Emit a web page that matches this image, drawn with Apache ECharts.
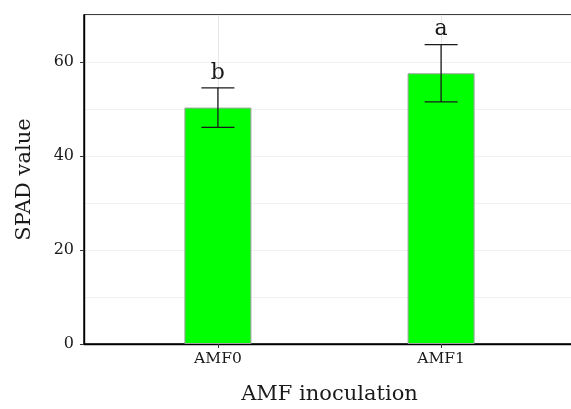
<!DOCTYPE html>
<html lang="en">
<head>
    <meta charset="utf-8">
    <title>SPAD value</title>
    <script src="https://cdn.jsdelivr.net/npm/echarts@6/dist/echarts.min.js"></script>
    <style>
        html, body { margin: 0; padding: 0; background: #fff; }
        #main { width: 571px; height: 409px; }
    </style>
</head>
<body>
<div id="main"></div>
<script type="text/javascript">
    // data
    var categories = ['AMF0', 'AMF1'];
    var spadMean = [50.3, 57.6];
    var spadSd = [4.2, 6.1];
    var letters = ['b', 'a'];
    var yTicks = [0, 20, 40, 60];

    // x axis is laid out on slots of 0.2 units from 0.4 to 2.6 (groups sit at 1 and 2)
    var slotCount = 12;
    var slotOf = [3, 8];
    var slots = [];
    var barData = [];
    for (var i = 0; i < slotCount; i++) {
        slots.push('');
        barData.push('-');
    }
    var errData = [];
    for (var k = 0; k < categories.length; k++) {
        slots[slotOf[k]] = categories[k];
        barData[slotOf[k]] = spadMean[k];
        errData.push([slotOf[k], spadMean[k] - spadSd[k], spadMean[k] + spadSd[k], k]);
    }
    function isGroup(idx) { return slotOf.indexOf(idx) >= 0; }

    var font = 'DejaVu Serif';
    var chart = echarts.init(document.getElementById('main'));
    chart.setOption({
        animation: false,
        backgroundColor: '#fff',
        grid: {
            left: 84, top: 15, bottom: 65, width: 491,
            outerBoundsMode: 'none',
            containLabel: false,
            show: true, borderColor: '#000', borderWidth: 1.4, backgroundColor: 'transparent'
        },
        xAxis: {
            type: 'category',
            data: slots,
            boundaryGap: false,
            name: 'AMF inoculation',
            nameLocation: 'middle',
            nameGap: 40,
            nameTextStyle: { fontFamily: font, fontSize: 21, color: '#1a1a1a' },
            axisLine: { lineStyle: { color: '#000', width: 1.4 } },
            axisTick: { length: 4, lineStyle: { color: '#333' }, interval: function (idx) { return isGroup(idx); } },
            axisLabel: {
                margin: 7, fontFamily: font, fontSize: 15.5, color: '#1a1a1a',
                interval: function (idx) { return isGroup(idx); }
            },
            splitLine: {
                show: true,
                interval: function (idx) { return isGroup(idx); },
                lineStyle: { color: '#e6e6e6', width: 1 }
            }
        },
        yAxis: [{
            type: 'value',
            min: 0, max: 70, interval: 20,
            name: 'SPAD value',
            nameLocation: 'middle',
            nameGap: 49,
            nameTextStyle: { fontFamily: font, fontSize: 21, color: '#1a1a1a' },
            axisLine: { show: true, lineStyle: { color: '#000', width: 1.4 } },
            axisTick: { show: true, length: 4, customValues: yTicks, lineStyle: { color: '#333' } },
            axisLabel: {
                margin: 10, fontFamily: font, fontSize: 16, color: '#1a1a1a',
                formatter: function (v) { return yTicks.indexOf(v) >= 0 ? String(v) : ''; }
            },
            splitLine: { show: true, lineStyle: { color: '#e6e6e6', width: 1 } }
        }, {
            // minor grid lines only
            type: 'value',
            min: 0, max: 70, interval: 10,
            position: 'left',
            axisLine: { show: false },
            axisTick: { show: false },
            axisLabel: { show: false },
            splitLine: { show: true, lineStyle: { color: '#f1f1f1', width: 1 } }
        }],
        series: [{
            type: 'bar',
            data: barData,
            barWidth: 67,
            itemStyle: { color: '#00ff00', borderColor: '#a0a0a0', borderWidth: 1 },
            z: 3
        }, {
            type: 'custom',
            data: errData,
            z: 4,
            renderItem: function (params, api) {
                var x = api.value(0);
                var lo = api.coord([x, api.value(1)]);
                var hi = api.coord([x, api.value(2)]);
                var half = 16.5;
                var style = { stroke: '#1a1a1a', lineWidth: 1.3 };
                return {
                    type: 'group',
                    children: [
                        { type: 'line', shape: { x1: hi[0], y1: hi[1], x2: lo[0], y2: lo[1] }, style: style },
                        { type: 'line', shape: { x1: hi[0] - half, y1: hi[1], x2: hi[0] + half, y2: hi[1] }, style: style },
                        { type: 'line', shape: { x1: lo[0] - half, y1: lo[1], x2: lo[0] + half, y2: lo[1] }, style: style },
                        {
                            type: 'text',
                            style: {
                                text: letters[api.value(3)],
                                x: hi[0], y: hi[1] - 4,
                                align: 'center', verticalAlign: 'bottom',
                                font: '22px "' + font + '"', fill: '#1a1a1a'
                            }
                        }
                    ]
                };
            }
        }]
    });
</script>
</body>
</html>
